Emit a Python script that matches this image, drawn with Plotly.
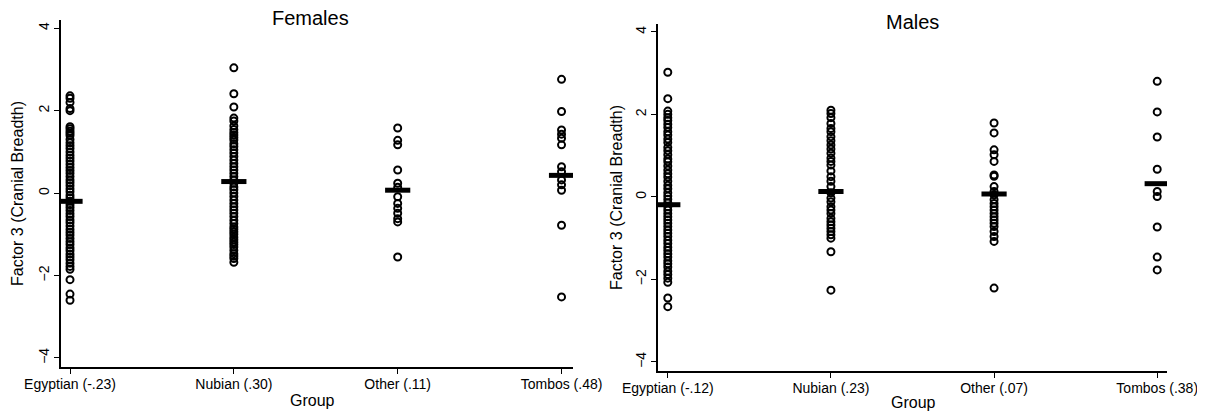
import plotly.graph_objects as go

groups = ["Egyptian", "Nubian", "Other", "Tombos"]
labels_f = ["Egyptian (-.23)", "Nubian (.30)", "Other (.11)", "Tombos (.48)"]
labels_m = ["Egyptian (-.12)", "Nubian (.23)", "Other (.07)", "Tombos (.38)"]

fem_egyptian = [2.36, 2.30, 2.20, 2.05, 2.00, 1.61, 1.56, 1.50, 1.45, 1.40, 1.30, 1.22, 1.15, 1.08,
                1.00, 0.92, 0.85, 0.78, 0.70, 0.62, 0.55, 0.48, 0.40, 0.32, 0.25, 0.18, 0.10, 0.03,
                -0.05, -0.12, -0.20, -0.28, -0.35, -0.42, -0.50, -0.57, -0.65, -0.72, -0.80, -0.88,
                -0.95, -1.02, -1.10, -1.18, -1.25, -1.33, -1.40, -1.48, -1.55, -1.62, -1.70, -1.78,
                -1.85, -2.10, -2.45, -2.60]
fem_nubian = [3.04, 2.41, 2.09, 1.82, 1.75, 1.63, 1.54, 1.47, 1.41, 1.35, 1.29, 1.20, 1.13, 1.05,
              0.97, 0.89, 0.80, 0.72, 0.64, 0.56, 0.48, 0.40, 0.32, 0.24, 0.15, 0.08, 0.00, -0.08,
              -0.17, -0.25, -0.33, -0.41, -0.49, -0.57, -0.66, -0.74, -0.82, -0.88, -0.94, -1.00,
              -1.07, -1.13, -1.19, -1.25, -1.31, -1.39, -1.47, -1.53, -1.59, -1.68]
fem_other = [1.58, 1.28, 1.17, 0.56, 0.24, 0.14, -0.09, -0.25, -0.37, -0.49, -0.62, -0.70, -1.55]
fem_tombos = [2.76, 1.98, 1.53, 1.43, 1.33, 1.17, 0.64, 0.52, 0.32, 0.20, 0.07, -0.78, -2.52]

male_egyptian = [3.02, 2.38, 2.08, 2.00, 1.92, 1.85, 1.76, 1.68, 1.58, 1.50, 1.40, 1.32, 1.20, 1.12,
                 1.02, 0.92, 0.85, 0.75, 0.65, 0.56, 0.48, 0.38, 0.28, 0.20, 0.10, 0.02, -0.06, -0.14,
                 -0.24, -0.32, -0.40, -0.48, -0.56, -0.64, -0.72, -0.80, -0.88, -0.96, -1.05, -1.13,
                 -1.22, -1.30, -1.38, -1.46, -1.55, -1.62, -1.70, -1.80, -1.88, -1.97, -2.07, -2.45, -2.66]
male_nubian = [2.10, 2.02, 1.92, 1.78, 1.66, 1.58, 1.46, 1.36, 1.26, 1.16, 1.06, 0.94, 0.86, 0.77,
               0.63, 0.49, 0.38, 0.25, 0.10, -0.03, -0.12, -0.24, -0.32, -0.40, -0.52, -0.60, -0.68,
               -0.76, -0.84, -0.92, -1.00, -1.33, -2.26]
male_other = [1.79, 1.55, 1.14, 1.02, 0.86, 0.53, 0.50, 0.25, 0.13, 0.05, -0.07, -0.16, -0.24, -0.32,
              -0.40, -0.48, -0.56, -0.64, -0.72, -0.84, -0.96, -1.08, -2.21]
male_tombos = [2.80, 2.06, 1.45, 0.67, 0.13, 0.01, -0.73, -1.46, -1.77]

mean_f = [-0.20, 0.28, 0.07, 0.43]
mean_m = [-0.19, 0.13, 0.07, 0.32]

female = [fem_egyptian, fem_nubian, fem_other, fem_tombos]
male = [male_egyptian, male_nubian, male_other, male_tombos]

OFF = 8  # page body margin
W, H = 1205 - OFF, 411 - OFF
FONT = "Liberation Sans"

fig = go.Figure()

def add_panel(data, means, xa, ya):
    for i, vals in enumerate(data):
        fig.add_trace(go.Scatter(
            x=[i + 1] * len(vals), y=vals, mode="markers", xaxis=xa, yaxis=ya,
            marker=dict(symbol="circle-open", size=7, color="black", line=dict(width=2, color="black")),
            showlegend=False, hoverinfo="y"))
    fig.add_trace(go.Scatter(
        x=[i + 1 for i in range(len(means))], y=means, mode="markers", xaxis=xa, yaxis=ya,
        marker=dict(symbol="line-ew", size=18, color="black", line=dict(width=5, color="black")),
        showlegend=False, hoverinfo="y"))

add_panel(female, mean_f, "x", "y")
add_panel(male, mean_m, "x2", "y2")

def px_x(p):
    return (p - OFF) / W

def px_y(p):
    return 1 - (p - OFF) / H

axis_common = dict(showgrid=False, zeroline=False, showline=True, linecolor="black", linewidth=1.5,
                   ticks="outside", ticklen=5, tickwidth=1.3, tickcolor="black", automargin=False,
                   tickfont=dict(family=FONT, size=14, color="black"))
xax = dict(tickvals=[1, 2, 3, 4], ticklabelstandoff=-2, **axis_common)
yax = dict(tickvals=[-4, -2, 0, 2, 4], tickangle=-90, ticklabelstandoff=0, **axis_common)

fig.update_layout(
    width=W, height=H, margin=dict(l=0, r=0, t=0, b=0),
    paper_bgcolor="white", plot_bgcolor="white",
    xaxis=dict(domain=[px_x(61), px_x(573)], range=[0.945, 4.07], anchor="y",
               ticktext=labels_f, **xax),
    yaxis=dict(domain=[px_y(367), px_y(20)], range=[-4.22, 4.2], anchor="x", **yax),
    xaxis2=dict(domain=[px_x(658), px_x(1167)], range=[0.94, 4.06], anchor="y2",
                ticktext=labels_m, **xax),
    yaxis2=dict(domain=[px_y(371), px_y(24)], range=[-4.22, 4.19], anchor="x2", **yax),
)

ann_font = dict(family=FONT, color="black")
annotations = [
    dict(text="Females", x=px_x(310), y=px_y(18), font=dict(size=20, **ann_font)),
    dict(text="Males", x=px_x(912), y=px_y(22), font=dict(size=20, **ann_font)),
    dict(text="Group", x=px_x(312), y=px_y(400), font=dict(size=16, **ann_font)),
    dict(text="Group", x=px_x(913), y=px_y(402), font=dict(size=16, **ann_font)),
    dict(text="Factor 3 (Cranial Breadth)", x=px_x(17), y=px_y(194), textangle=-90,
         font=dict(size=16, **ann_font)),
    dict(text="Factor 3 (Cranial Breadth)", x=px_x(616), y=px_y(198), textangle=-90,
         font=dict(size=16, **ann_font)),
]
for a in annotations:
    a.update(xref="paper", yref="paper", showarrow=False, xanchor="center", yanchor="middle")
fig.update_layout(annotations=annotations)

fig.write_html("out.html")
